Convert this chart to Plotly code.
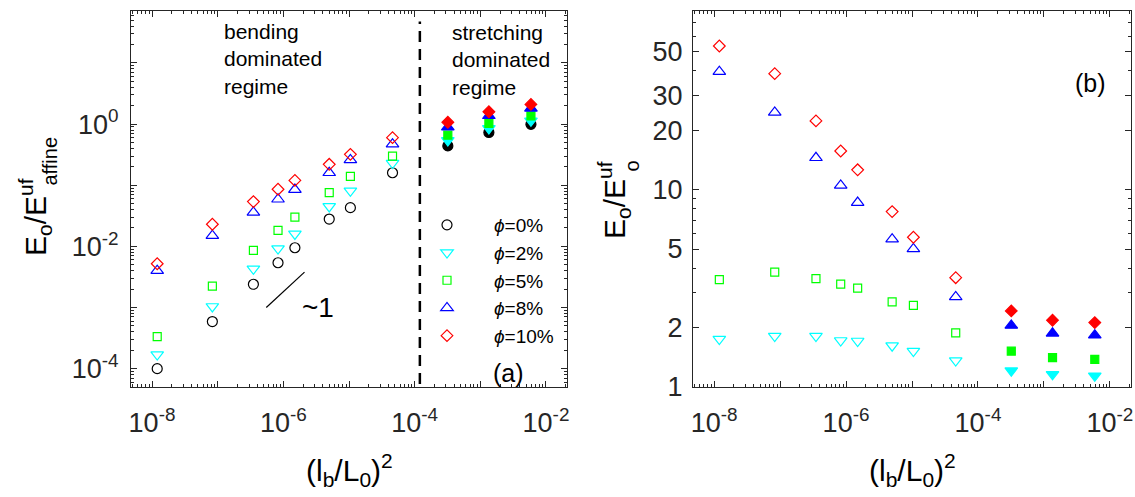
import numpy as np
import plotly.graph_objects as go

# (l_b/L_0)^2 values shared by both panels
x_vals = [1.2e-8, 8.3e-8, 3.5e-7, 8.3e-7, 1.5e-6, 5.0e-6, 1.05e-5, 4.6e-5, 3.2e-4, 1.35e-3, 5.9e-3]
n_open = 8  # first 8 points bending regime (open), last 3 stretching regime (filled)

# Panel (a): E_o / E_affine^uf
a_phi0 = [1.0e-4, 5.9e-4, 2.4e-3, 5.4e-3, 9.5e-3, 2.8e-2, 4.3e-2, 0.16, 0.44, 0.73, 0.99]
a_phi2 = [1.7e-4, 1.04e-3, 4.3e-3, 9.2e-3, 1.6e-2, 4.5e-2, 8.1e-2, 0.23, 0.54, 0.85, 1.13]
a_phi5 = [3.35e-4, 2.24e-3, 8.6e-3, 1.83e-2, 3.0e-2, 7.6e-2, 0.14, 0.30, 0.66, 1.03, 1.36]
a_phi8 = [4.0e-3, 1.5e-2, 3.6e-2, 5.9e-2, 8.5e-2, 0.16, 0.26, 0.47, 0.89, 1.37, 1.81]
a_phi10 = [5.2e-3, 2.3e-2, 5.4e-2, 8.6e-2, 0.12, 0.22, 0.32, 0.60, 1.07, 1.59, 2.10]

# Panel (b): E_o / E_o^uf
b_phi2 = [1.75, 1.81, 1.81, 1.72, 1.71, 1.62, 1.52, 1.36, 1.21, 1.16, 1.14]
b_phi5 = [3.50, 3.82, 3.54, 3.32, 3.17, 2.70, 2.59, 1.88, 1.52, 1.41, 1.38]
b_phi8 = [39.6, 24.6, 14.5, 10.5, 8.6, 5.61, 5.01, 2.86, 2.05, 1.87, 1.83]
b_phi10 = [53.4, 38.7, 22.3, 15.7, 12.6, 7.74, 5.74, 3.58, 2.43, 2.18, 2.12]

series_names = ["<i>ϕ</i>=0%", "<i>ϕ</i>=2%", "<i>ϕ</i>=5%", "<i>ϕ</i>=8%", "<i>ϕ</i>=10%"]
colors = ["#000000", "#00FFFF", "#00FF00", "#0000FF", "#FF0000"]
symbols = ["circle", "triangle-down", "square", "triangle-up", "diamond"]
sizes = [10, 11, 8, 11, 9]

# Regime boundary and slope-1 guide
boundary_x = 1.2e-4
boundary_y = [10 ** -4.25, 10 ** 1.68]
slope_x = [5.5e-7, 2.1e-6]
slope_y = [1.0e-3, 3.8e-3]

W, H = 1135, 497


def px(x):
    return x / W


def py(y):
    return 1 - y / H


def sym_list(base):
    return [base + "-open"] * n_open + [base] * (len(x_vals) - n_open)


fig = go.Figure()

a_series = [a_phi0, a_phi2, a_phi5, a_phi8, a_phi10]
for name, ys, c, s, sz in zip(series_names, a_series, colors, symbols, sizes):
    fig.add_trace(go.Scatter(
        x=x_vals, y=ys, mode="markers", name=name, xaxis="x", yaxis="y",
        marker=dict(symbol=sym_list(s), size=sz, color=c, line=dict(color=c, width=1.2)),
        showlegend=True,
    ))

b_series = [b_phi2, b_phi5, b_phi8, b_phi10]
for ys, c, s, sz in zip(b_series, colors[1:], symbols[1:], sizes[1:]):
    fig.add_trace(go.Scatter(
        x=x_vals, y=ys, mode="markers", xaxis="x2", yaxis="y2",
        marker=dict(symbol=sym_list(s), size=sz, color=c, line=dict(color=c, width=1.2)),
        showlegend=False,
    ))

# dashed regime boundary
fig.add_trace(go.Scatter(
    x=[boundary_x, boundary_x], y=boundary_y, mode="lines", xaxis="x", yaxis="y",
    line=dict(color="black", width=2.5, dash="11px,7px"), showlegend=False, hoverinfo="skip",
))
# slope guide
fig.add_trace(go.Scatter(
    x=slope_x, y=slope_y, mode="lines", xaxis="x", yaxis="y",
    line=dict(color="black", width=1.2), showlegend=False, hoverinfo="skip",
))


def decade_minors(lo, hi):
    out = []
    for e in range(lo, hi + 1):
        for k in range(2, 10):
            out.append(k * 10.0 ** e)
    return out


x_major = [10.0 ** e for e in range(-8, -1)]
x_text = ["10<sup>%d</sup>" % e if e % 2 == 0 else "" for e in range(-8, -1)]
x_minor = decade_minors(-9, -2)

tick_font = dict(family="Arial", size=27, color="#262626")
axis_common = dict(
    type="log", showgrid=False, zeroline=False, showline=True, linecolor="#262626",
    linewidth=1, mirror="ticks", ticks="inside", ticklen=6, tickcolor="#262626",
    tickfont=tick_font,
)

xaxis = dict(axis_common, domain=[px(131), px(567)], range=[-8.32, -1.68],
             tickmode="array", tickvals=x_major, ticktext=x_text, anchor="y", ticklabelstandoff=12,
             minor=dict(ticks="inside", ticklen=3, tickcolor="#262626", tickmode="array", tickvals=x_minor))
xaxis2 = dict(axis_common, domain=[px(693), px(1131)], range=[-8.32, -1.68],
              tickmode="array", tickvals=x_major, ticktext=x_text, anchor="y2", ticklabelstandoff=12,
              minor=dict(ticks="inside", ticklen=3, tickcolor="#262626", tickmode="array", tickvals=x_minor))

y_major = [10.0 ** e for e in range(-5, 2)]
y_text = ["10<sup>%d</sup>" % e if e % 2 == 0 else "" for e in range(-5, 2)]
yaxis = dict(axis_common, domain=[py(387), py(11)], range=[-4.3, 1.85],
             tickmode="array", tickvals=y_major, ticktext=y_text, anchor="x", ticklabelstandoff=6,
             minor=dict(ticks="inside", ticklen=3, tickcolor="#262626", tickmode="array",
                        tickvals=decade_minors(-5, 1)))

y2_major = [1, 2, 5, 10, 20, 30, 50]
y2_minor = [3, 4, 6, 7, 8, 9, 40, 60, 70, 80]
yaxis2 = dict(axis_common, domain=[py(387), py(11)], range=[0, 1.905],
              tickmode="array", tickvals=y2_major, ticktext=[str(v) for v in y2_major], anchor="x2",
              ticklabelstandoff=4,
              minor=dict(ticks="inside", ticklen=3, tickcolor="#262626", tickmode="array", tickvals=y2_minor))

txt = dict(family="Arial", color="black")
annotations = [
    # regime labels
    dict(x=px(222), y=py(18), xref="paper", yref="paper", xanchor="left", yanchor="top", align="left",
         text="bending<br>dominated<br>regime", showarrow=False, font=dict(txt, size=21)),
    dict(x=px(450), y=py(19), xref="paper", yref="paper", xanchor="left", yanchor="top", align="left",
         text="stretching<br>dominated<br>regime", showarrow=False, font=dict(txt, size=21)),
    dict(x=px(300), y=py(307), xref="paper", yref="paper", xanchor="left", yanchor="middle",
         text="~1", showarrow=False, font=dict(txt, size=28)),
    dict(x=px(508), y=py(373), xref="paper", yref="paper", xanchor="center", yanchor="middle",
         text="(a)", showarrow=False, font=dict(txt, size=25)),
    dict(x=px(1090), y=py(83), xref="paper", yref="paper", xanchor="center", yanchor="middle",
         text="(b)", showarrow=False, font=dict(txt, size=25)),
    # x titles
    dict(x=px(349), y=py(470), xref="paper", yref="paper", xanchor="center", yanchor="middle",
         text="(l<sub>b</sub>/L<sub>0</sub>)<sup>2</sup>", showarrow=False, font=dict(txt, size=30)),
    dict(x=px(912), y=py(470), xref="paper", yref="paper", xanchor="center", yanchor="middle",
         text="(l<sub>b</sub>/L<sub>0</sub>)<sup>2</sup>", showarrow=False, font=dict(txt, size=30)),
    # y title, panel (a)
    dict(x=px(35), y=py(258), xref="paper", yref="paper", xanchor="center", yanchor="bottom", textangle=-90,
         text="E<sub>o</sub>/E<sup>uf</sup>", showarrow=False, font=dict(txt, size=30)),
    dict(x=px(49), y=py(188), xref="paper", yref="paper", xanchor="center", yanchor="bottom", textangle=-90,
         text="affine", showarrow=False, font=dict(txt, size=20)),
    # y title, panel (b)
    dict(x=px(614), y=py(241), xref="paper", yref="paper", xanchor="center", yanchor="bottom", textangle=-90,
         text="E<sub>o</sub>/E<sup>uf</sup>", showarrow=False, font=dict(txt, size=30)),
    dict(x=px(631), y=py(174), xref="paper", yref="paper", xanchor="center", yanchor="bottom", textangle=-90,
         text="o", showarrow=False, font=dict(txt, size=20)),
]

fig.update_layout(
    width=W, height=H, margin=dict(l=0, r=0, t=0, b=0, autoexpand=False),
    paper_bgcolor="white", plot_bgcolor="white",
    xaxis=xaxis, yaxis=yaxis, xaxis2=xaxis2, yaxis2=yaxis2,
    annotations=annotations,
    showlegend=True,
    legend=dict(x=px(400), y=py(206), xanchor="left", yanchor="top", bgcolor="rgba(0,0,0,0)",
                font=dict(family="Arial", size=19, color="black"), itemwidth=84,
                tracegroupgap=0),
)

fig.write_html("out.html")
